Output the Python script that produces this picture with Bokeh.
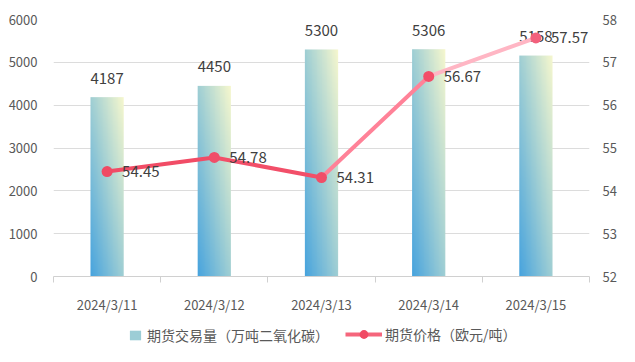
import numpy as np
from bokeh.plotting import figure
from bokeh.layouts import column
from bokeh.models import (Range1d, LinearAxis, FixedTicker, Legend, LegendItem)
from bokeh.embed import file_html
from bokeh.resources import INLINE
from bokeh.core.properties import value

# ---- data ----
dates = ["2024/3/11", "2024/3/12", "2024/3/13", "2024/3/14", "2024/3/15"]
volume = [4187, 4450, 5300, 5306, 5158]
price = [54.45, 54.78, 54.31, 56.67, 57.57]
left_ticks = [0, 1000, 2000, 3000, 4000, 5000, 6000]
right_ticks = [52, 53, 54, 55, 56, 57, 58]
vol_name = "期货交易量（万吨二氧化碳）"
price_name = "期货价格（欧元/吨）"

FONT = "Noto Sans CJK SC"
W = 619
H_MAIN, H_LEG = 316, 30
n = len(dates)
xs = [i + 0.5 for i in range(n)]
bw = 0.31

p = figure(width=W, height=H_MAIN, output_backend="svg", toolbar_location=None,
           x_range=Range1d(0, n), y_range=Range1d(left_ticks[0], left_ticks[-1]),
           min_border_left=53, min_border_right=22, min_border_top=19,
           min_border_bottom=H_MAIN - 282)
p.extra_y_ranges = {"right": Range1d(right_ticks[0], right_ticks[-1])}
p.outline_line_color = None
p.background_fill_color = "white"
p.border_fill_color = "white"

# axes
p.xaxis.ticker = FixedTicker(ticks=xs, minor_ticks=list(range(n + 1)))
p.xaxis.major_label_overrides = {x: d for x, d in zip(xs, dates)}
p.xaxis.axis_line_color = "#D0D0D0"
p.xaxis.major_tick_line_color = None
p.xaxis.minor_tick_line_color = "#D0D0D0"
p.xaxis.minor_tick_in = 0
p.xaxis.minor_tick_out = 6
p.xaxis.major_label_standoff = 12
p.xaxis.major_label_text_font = FONT
p.xaxis.major_label_text_font_size = "13px"
p.xaxis.major_label_text_color = "#595959"

p.yaxis.ticker = FixedTicker(ticks=left_ticks)
p.yaxis.axis_line_color = None
p.yaxis.major_tick_line_color = None
p.yaxis.minor_tick_line_color = None
p.yaxis.major_label_standoff = 10
p.yaxis.major_label_text_font = FONT
p.yaxis.major_label_text_font_size = "13px"
p.yaxis.major_label_text_color = "#595959"

ra = LinearAxis(y_range_name="right", ticker=FixedTicker(ticks=right_ticks))
ra.axis_line_color = None
ra.major_tick_line_color = None
ra.minor_tick_line_color = None
ra.major_label_standoff = 7
ra.major_label_text_font = FONT
ra.major_label_text_font_size = "13px"
ra.major_label_text_color = "#595959"
p.add_layout(ra, "right")

p.xgrid.grid_line_color = None
p.ygrid.grid_line_color = "#DCDCDC"
p.ygrid.ticker = FixedTicker(ticks=left_ticks[1:])

# ---- gradient bars ----
def grad_img(nx=40, ny=240):
    u = np.linspace(0, 1, nx)[None, :]
    v = np.linspace(0, 1, ny)[:, None]
    t = (u + v) / 2.0
    stops = [0.0, 0.5, 1.0]
    cols = np.array([[72, 164, 222], [160, 207, 212], [247, 248, 206]], float)
    img = np.empty((ny, nx), dtype=np.uint32)
    view = img.view(dtype=np.uint8).reshape((ny, nx, 4))
    for k in range(3):
        view[:, :, k] = np.interp(t, stops, cols[:, k]).astype(np.uint8)
    view[:, :, 3] = 255
    return img

img = grad_img()
p.image_rgba(image=[img] * n, x=[x - bw / 2 for x in xs], y=[0] * n,
             dw=[bw] * n, dh=volume)

# bar labels
p.text(x=xs, y=volume, text=[str(v) for v in volume], text_align="center",
       text_baseline="middle", y_offset=-19, text_font=value(FONT),
       text_font_size="15px", text_color="#404040")

# ---- price line ----
seg_colors = ["#F14C66", "#F24F69", "#FF8298", "#FFB6C4"]
p.segment(x0=xs[:-1], y0=price[:-1], x1=xs[1:], y1=price[1:],
          line_color=seg_colors, line_width=4, line_cap="round",
          y_range_name="right")
p.scatter(x=xs, y=price, size=11, marker="circle",
          fill_color=["#F04A64", "#F04E68", "#F04E68", "#F24E68", "#F2607C"],
          line_color=None, y_range_name="right")
p.text(x=xs, y=price, text=[f"{v:.2f}" for v in price], text_align="left",
       text_baseline="middle", x_offset=15, text_font=value(FONT),
       text_font_size="15px", text_color="#404040", y_range_name="right")

# ---- legend strip (frame aligned with the main plot's frame) ----
q = figure(width=W, height=H_LEG, output_backend="svg", toolbar_location=None,
           x_range=Range1d(0, 1), y_range=Range1d(0, 1),
           x_axis_location=None, y_axis_location=None,
           min_border_left=0, min_border_right=0, min_border_top=0,
           min_border_bottom=0)
q.outline_line_color = None
q.grid.visible = False
q.background_fill_color = "white"
q.border_fill_color = "white"

# legend-only stand-in glyphs, kept outside the strip's visible ranges
d_bar = q.quad(left=[-3], right=[-2], top=[-2], bottom=[-3],
               fill_color="#9CCDD6", line_color=None)
d_line = q.line(x=[-3, -2], y=[-3, -2], line_color="#F5667C", line_width=4)
d_mark = q.scatter(x=[-3], y=[-3], marker="circle", fill_color="#F04A64",
                   line_color=None)

def style_legend(lg):
    lg.orientation = "horizontal"
    lg.padding = 0
    lg.margin = 0
    lg.spacing = 0
    lg.border_line_color = None
    lg.background_fill_alpha = 0
    lg.label_text_font = FONT
    lg.label_text_font_size = "14px"
    lg.label_text_color = "#595959"
    lg.label_height = 20
    lg.click_policy = "none"

lg1 = Legend(items=[LegendItem(label=vol_name, renderers=[d_bar])],
             location=(75, 1), glyph_width=14, glyph_height=12,
             label_standoff=5)
style_legend(lg1)
lg2 = Legend(items=[LegendItem(label=price_name, renderers=[d_line, d_mark])],
             location=(292, 1), glyph_width=37, glyph_height=22,
             label_standoff=3)
style_legend(lg2)
q.add_layout(lg1)
q.add_layout(lg2)

layout = column(p, q, spacing=0)
open("out.html", "w").write(file_html(layout, INLINE))
